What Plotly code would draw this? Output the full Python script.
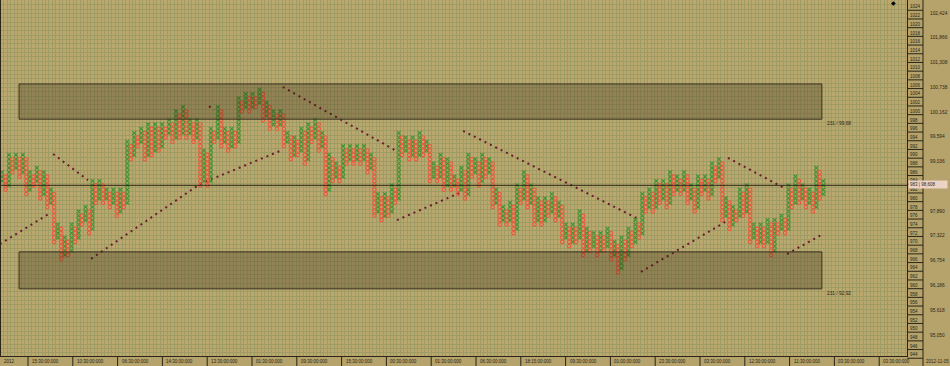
import plotly.graph_objects as go

# ---------------- data ----------------
first_low = 984          # first column (X) starts at this box
col_extremes = [
    986, 982, 990, 986, 990, 985, 990, 981, 986, 983,
    987, 980, 986, 978, 982, 970, 974, 966, 971, 967,
    974, 970, 977, 974, 978, 972, 984, 979, 984, 979,
    982, 978, 982, 976, 982, 978, 993, 989, 995, 992,
    996, 989, 997, 990, 997, 991, 997, 994, 998, 993,
    1000, 994, 1001, 994, 998, 993, 998, 983, 991, 983,
    996, 993, 1001, 992, 996, 991, 996, 992, 1003, 1000,
    1004, 1000, 1004, 1001, 1005, 998, 1002, 996, 1000, 996,
    1000, 992, 995, 989, 994, 990, 996, 988, 997, 993,
    998, 991, 995, 981, 990, 984, 988, 984, 992, 988,
    992, 988, 992, 988, 992, 986, 990, 976, 981, 975,
    981, 976, 983, 979, 995, 990, 994, 989, 994, 989,
    995, 990, 993, 984, 988, 984, 990, 982, 989, 982,
    985, 981, 987, 980, 990, 985, 989, 983, 990, 985,
    989, 978, 982, 974, 978, 974, 979, 972, 983, 979,
    986, 978, 983, 974, 980, 974, 980, 976, 981, 975,
    979, 970, 974, 969, 974, 970, 977, 967, 973, 968,
    972, 967, 972, 968, 973, 966, 970, 963, 971, 966,
    973, 969, 975, 971, 981, 977, 982, 977, 984, 979,
    984, 978, 986, 981, 985, 981, 986, 979, 983, 977,
    985, 981, 985, 980, 988, 984, 989, 975, 980, 973,
    978, 975, 982, 976, 983, 970, 974, 969, 974, 969,
    975, 967, 975, 972, 976, 972, 983, 978, 985, 979,
    983, 978, 982, 977, 987, 980, 984,
]
box_labels = list(range(1024, 943, -2))
price_labels = ["102,424", "101,866", "101,308", "100,738", "100,162", "99,594",
                "99,036", "", "97,890", "97,322", "96,754", "96,186", "95,618", "95,050"]
time_labels = ["15:30:00:000", "10:30:00:000", "06:30:00:000", "14:30:00:000",
               "13:30:00:000", "01:30:00:000", "09:30:00:000", "15:30:00:000",
               "00:30:00:000", "01:30:00:000", "06:30:00:000", "18:15:00:000",
               "09:30:00:000", "01:00:00:000", "23:30:00:000", "03:30:00:000",
               "12:30:00:000", "11:30:00:000", "03:30:00:000", "03:30:00:000"]
start_label = "2012"
end_label = "2012-11-05"
current_box = 983
current_price = "98,608"
band_top = (998.2, 1006.3)
band_bottom = (959.2, 967.7)
band_labels = ["231 / 99,68", "231 / 92,92"]
# trend (stop) lines, in column / box units
trend_lines = [
    ([-0.6, 13.8], [969.5, 976.6]),
    ([14.7, 24.7], [990.2, 984.2]),
    ([25.6, 56.9, 80.5], [966.1, 983.3, 991.1]),
    ([59.5, 60.9], [1001.2, 1000.3]),
    ([80.7, 112.9], [1005.6, 991.1]),
    ([113.5, 132.2], [975.0, 981.5]),
    ([132.5, 182.8], [995.5, 975.3]),
    ([183.6, 208.3], [963.1, 974.8]),
    ([208.6, 224.7], [989.3, 982.4]),
    ([225.6, 235.9], [967.2, 971.8]),
]

# ---------------- build point & figure columns ----------------
xx, xy, ox, oy = [], [], [], []
prev = None
for i, ext in enumerate(col_extremes):
    if i % 2 == 0:
        start = first_low if prev is None else prev + 1
        for b in range(start, ext + 1):
            xx.append(i); xy.append(b)
    else:
        for b in range(prev - 1, ext - 1, -1):
            ox.append(i); oy.append(b)
    prev = ext

# ---------------- geometry helpers (pixels) ----------------
W, H = 950, 366
ML, MR, MT, MB = 1, 43, 0, 10
PW, PH = W - ML - MR, H - MT - MB
COLW, BOXH = 3.48, 4.35
X0 = (ML - 2) / COLW
X1 = (ML + PW - 2) / COLW
YTOP = 1025.6
YBOT = YTOP - PH / BOXH


def pxx(xp):
    return (xp - ML) / PW


def pyy(yp):
    return 1 - (yp - MT) / PH


def box_y(v):
    return (YTOP - v) * BOXH


BG = "#B5A36B"
PLOT_BG = "#BAA86F"
GRID = "#9F9B64"
DARK = "#2A2517"
GREEN = "#3F9430"
RED = "#CC4029"
STOP = "#6B1B2F"
FONT = "Liberation Sans"
TXT = "#2a2616"

fig = go.Figure()

for xs, ys in trend_lines:
    fig.add_trace(go.Scatter(x=xs, y=ys, mode="lines",
                             line=dict(color=STOP, width=2, dash="2px,4px"),
                             hoverinfo="skip", showlegend=False))

fig.add_trace(go.Scatter(x=xx, y=xy, mode="markers",
                         marker=dict(symbol="x-thin", size=3.8,
                                     line=dict(width=1.15, color=GREEN)),
                         hoverinfo="skip", showlegend=False))
fig.add_trace(go.Scatter(x=ox, y=oy, mode="markers",
                         marker=dict(symbol="circle-open", size=3.5,
                                     line=dict(width=1.05, color=RED)),
                         hoverinfo="skip", showlegend=False))

shapes = []
for (b0, b1) in (band_top, band_bottom):
    shapes.append(dict(type="rect", xref="x", yref="y", x0=4.9, x1=235.6,
                       y0=b0, y1=b1, fillcolor="rgba(45,35,10,0.27)",
                       line=dict(color="#3A3322", width=1), layer="above"))
shapes.append(dict(type="line", xref="paper", yref="y", x0=0, x1=1,
                   y0=current_box, y1=current_box,
                   line=dict(color=DARK, width=1), layer="above"))

# right box-axis ticks
shapes.append(dict(type="line", xref="paper", yref="paper",
                   x0=pxx(923), x1=pxx(923), y0=pyy(H), y1=pyy(0),
                   line=dict(color=DARK, width=1)))
annotations = []
for v in box_labels:
    yl = box_y(v)
    shapes.append(dict(type="line", xref="paper", yref="paper",
                       x0=pxx(907), x1=pxx(923), y0=pyy(yl + 3.3), y1=pyy(yl + 3.3),
                       line=dict(color=DARK, width=1)))
    annotations.append(dict(x=pxx(908), y=pyy(yl), xref="paper", yref="paper",
                            xanchor="left", yanchor="middle", text=str(v),
                            showarrow=False, font=dict(size=4.5, color=TXT, family=FONT)))

for i, t in enumerate(price_labels):
    if not t:
        continue
    annotations.append(dict(x=pxx(928), y=pyy(13 + 24.77 * i), xref="paper", yref="paper",
                            xanchor="left", yanchor="middle", text=t, showarrow=False,
                            font=dict(size=4.8, color=TXT, family=FONT)))

annotations.append(dict(x=pxx(908), y=pyy(box_y(current_box) - 1), xref="paper", yref="paper",
                        xanchor="left", yanchor="middle",
                        text=f"{current_box} | {current_price}", showarrow=False,
                        bgcolor="#EDD2C6", borderpad=1, width=36, align="left",
                        font=dict(size=4.5, color=TXT, family=FONT)))

# band labels
annotations.append(dict(x=pxx(825), y=pyy(124), xref="paper", yref="paper",
                        xanchor="left", yanchor="middle", text=band_labels[0], showarrow=False,
                        font=dict(size=4.8, color=TXT, family=FONT)))
annotations.append(dict(x=pxx(825), y=pyy(293), xref="paper", yref="paper",
                        xanchor="left", yanchor="middle", text=band_labels[1], showarrow=False,
                        font=dict(size=4.8, color=TXT, family=FONT)))

# bottom time axis
for k, t in enumerate(time_labels):
    xs = 28 + 44.8 * k
    shapes.append(dict(type="line", xref="paper", yref="paper",
                       x0=pxx(xs), x1=pxx(xs), y0=pyy(PH), y1=pyy(H),
                       line=dict(color=DARK, width=1)))
    annotations.append(dict(x=pxx(xs + 2), y=pyy(361), xref="paper", yref="paper",
                            xanchor="left", yanchor="middle", text=t, showarrow=False,
                            font=dict(size=4.5, color=TXT, family=FONT)))
annotations.append(dict(x=pxx(1.5), y=pyy(361), xref="paper", yref="paper",
                        xanchor="left", yanchor="middle", text=start_label, showarrow=False,
                        font=dict(size=4.5, color=TXT, family=FONT)))
annotations.append(dict(x=pxx(924), y=pyy(361), xref="paper", yref="paper",
                        xanchor="left", yanchor="middle", text=end_label, showarrow=False,
                        font=dict(size=4.5, color=TXT, family=FONT)))
annotations.append(dict(x=pxx(893), y=pyy(2), xref="paper", yref="paper",
                        xanchor="center", yanchor="middle", text="◆", showarrow=False,
                        font=dict(size=6, color="#000000", family="DejaVu Sans")))

fig.update_layout(
    width=W, height=H,
    margin=dict(l=ML, r=MR, t=MT, b=MB, pad=0),
    paper_bgcolor=BG, plot_bgcolor=PLOT_BG,
    showlegend=False, hovermode=False,
    shapes=shapes, annotations=annotations,
    xaxis=dict(range=[X0, X1], tick0=0.5, dtick=1, showgrid=True,
               gridcolor=GRID, gridwidth=1, showticklabels=False, ticks="",
               zeroline=False, showline=True, linecolor=DARK, linewidth=1),
    yaxis=dict(range=[YBOT, YTOP], tick0=0.5, dtick=1, showgrid=True,
               gridcolor=GRID, gridwidth=1, showticklabels=False, ticks="",
               zeroline=False, showline=True, mirror=True, linecolor=DARK, linewidth=1),
)

fig.write_html("out.html", config={"displayModeBar": False, "staticPlot": True},
               post_script="document.body.style.margin='0';"
               "document.body.style.background='" + BG + "';")
